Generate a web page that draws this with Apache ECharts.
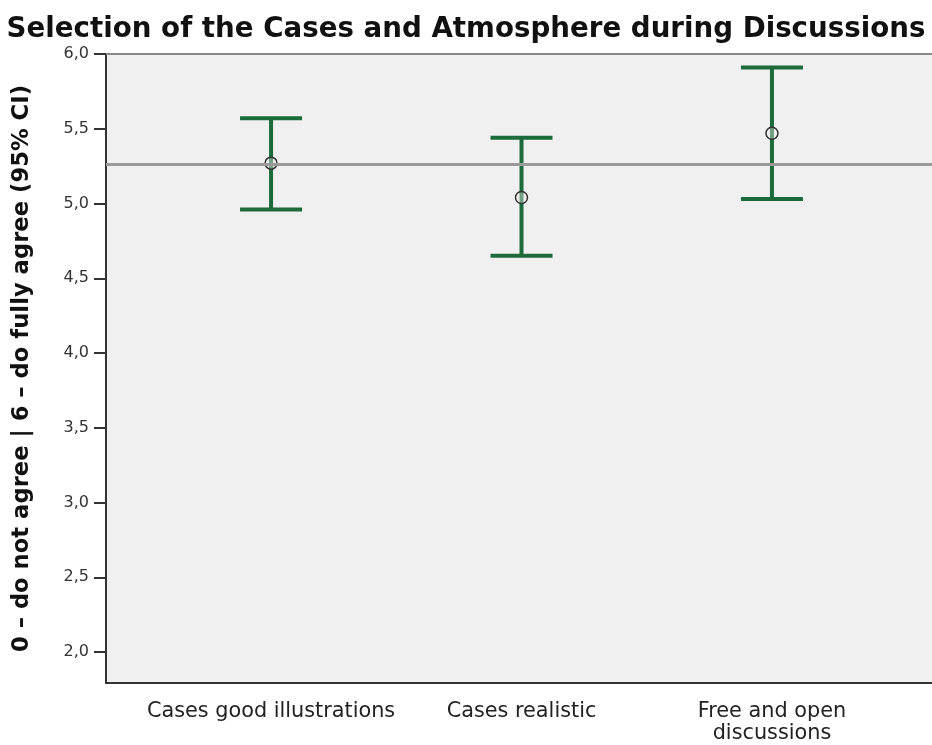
<!DOCTYPE html>
<html>
<head>
<meta charset="utf-8">
<script src="https://cdn.jsdelivr.net/npm/echarts@6/dist/echarts.min.js"></script>
<style>html,body{margin:0;padding:0;background:#fff}#c{width:932px;height:745px}</style>
</head>
<body>
<div id="c"></div>
<script>
const categories = ['Cases good illustrations', 'Cases realistic', 'Free and open\ndiscussions'];
const means = [5.27, 5.04, 5.47];
const lowerCI = [4.96, 4.65, 5.03];
const upperCI = [5.57, 5.44, 5.91];
const referenceValue = 5.26;
const yTicks = [2.0, 2.5, 3.0, 3.5, 4.0, 4.5, 5.0, 5.5, 6.0];

const chart = echarts.init(document.getElementById('c'), null, {renderer: 'canvas'});
const barData = categories.map((c, i) => [i, lowerCI[i], upperCI[i], means[i]]);

chart.setOption({
  animation: false,
  backgroundColor: '#ffffff',
  title: {
    text: 'Selection of the Cases and Atmosphere during Discussions',
    left: 'center', top: 11,
    textStyle: {fontFamily: 'DejaVu Sans', fontWeight: 'bold', fontSize: 27.7, color: '#111'}
  },
  grid: {left: 106, right: 0, top: 54, bottom: 60, show: true, backgroundColor: '#f0f0f0', borderWidth: 0},
  xAxis: [{
    type: 'value', min: -0.659, max: 2.639,
    axisLine: {show: true, onZero: false, lineStyle: {color: '#333', width: 2}},
    axisTick: {show: false},
    splitLine: {show: false},
    axisLabel: {
      customValues: [0, 1, 2],
      formatter: v => categories[Math.round(v)] || '',
      fontFamily: 'DejaVu Sans', fontSize: 20.8, color: '#222', lineHeight: 22, margin: 18
    }
  }, {
    type: 'value', position: 'top', min: -0.659, max: 2.639,
    axisLine: {show: true, onZero: false, lineStyle: {color: '#888', width: 2}},
    axisTick: {show: false}, axisLabel: {show: false}, splitLine: {show: false}
  }],
  yAxis: {
    type: 'value', min: 1.793, max: 6.0,
    name: '0 – do not agree | 6 – do fully agree (95% CI)',
    nameLocation: 'middle', nameGap: 72, nameRotate: 90,
    nameTextStyle: {fontFamily: 'DejaVu Sans', fontWeight: 'bold', fontSize: 22.7, color: '#111'},
    axisLine: {show: true, onZero: false, lineStyle: {color: '#333', width: 2}},
    axisTick: {show: true, customValues: yTicks, length: 12, lineStyle: {color: '#333', width: 2}},
    splitLine: {show: false},
    axisLabel: {
      customValues: yTicks,
      formatter: v => v.toFixed(1).replace('.', ','),
      fontFamily: 'DejaVu Sans', fontSize: 16, color: '#333', margin: 17
    }
  },
  series: [{
    type: 'line', data: [],
    markLine: {
      silent: true, symbol: 'none', label: {show: false},
      lineStyle: {color: '#9a9a9a', width: 3, type: 'solid'},
      data: [{yAxis: referenceValue}]
    }
  }, {
    type: 'custom',
    data: barData,
    renderItem: function (params, api) {
      const x = api.value(0);
      const lo = api.coord([x, api.value(1)]);
      const hi = api.coord([x, api.value(2)]);
      const m = api.coord([x, api.value(3)]);
      const hw = 31;
      const st = {stroke: '#1d6b3b', lineWidth: 4, fill: 'none'};
      return {
        type: 'group',
        children: [
          {type: 'line', shape: {x1: lo[0], y1: lo[1], x2: hi[0], y2: hi[1]}, style: st},
          {type: 'line', shape: {x1: hi[0] - hw, y1: hi[1], x2: hi[0] + hw, y2: hi[1]}, style: st},
          {type: 'line', shape: {x1: lo[0] - hw, y1: lo[1], x2: lo[0] + hw, y2: lo[1]}, style: st},
          {type: 'circle', shape: {cx: m[0], cy: m[1], r: 6}, style: {stroke: '#333', lineWidth: 1.5, fill: 'rgba(240,240,240,0.4)'}}
        ]
      };
    }
  }]
});
</script>
</body>
</html>
